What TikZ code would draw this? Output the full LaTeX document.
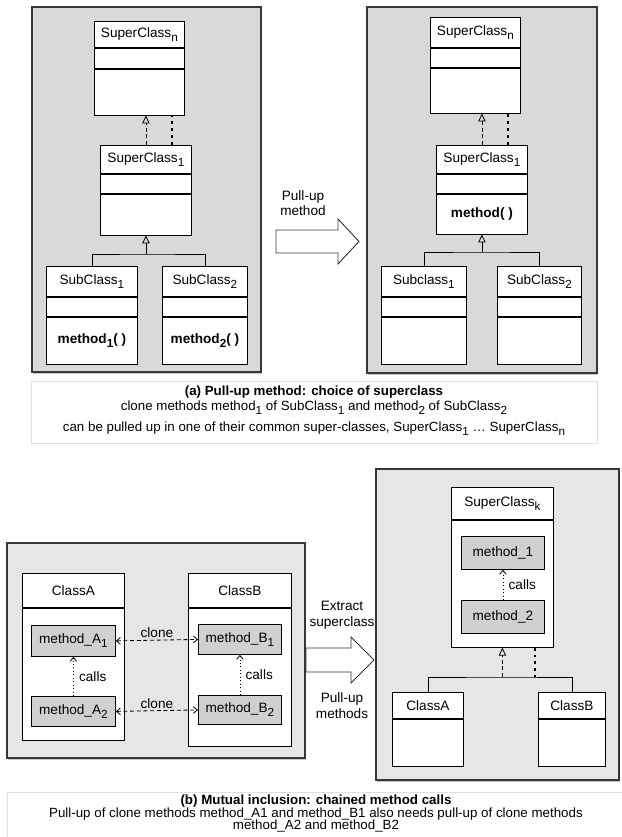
\documentclass[tikz,border=0pt]{standalone}
\usepackage{fontspec}
\setmainfont{Liberation Sans}
\usetikzlibrary{arrows.meta,calc,shadows}

\definecolor{panelgrey}{RGB}{217,217,217}
\definecolor{panellight}{RGB}{230,230,230}
\definecolor{methgrey}{RGB}{208,208,208}
\definecolor{edgegrey}{RGB}{55,55,55}
\newcommand{\subidx}[1]{\raisebox{-0.55ex}{\fontsize{8.8}{8.8}\selectfont #1}}
\newcommand{\tightcap}{\fontsize{10}{9.4}\selectfont\lineskiplimit=-5pt\relax}

\begin{document}
\begin{tikzpicture}[x=0.75pt,y=0.75pt,yscale=-1,xscale=1,
  font=\fontsize{10.2}{12}\selectfont,
  panel/.style={draw=edgegrey, line width=0.9pt, drop shadow={shadow xshift=0.8pt, shadow yshift=-1.2pt, opacity=0.45}},
  cls/.style n args={2}{draw, fill=white, line width=0.6pt, inner sep=0pt, anchor=north west, minimum width=#1*0.75pt, minimum height=#2*0.75pt},
  meth/.style n args={2}{cls={#1}{#2}, fill=methgrey},
  capbox/.style={draw=gray!25, fill=white, line width=0.4pt, drop shadow={shadow xshift=0.6pt, shadow yshift=-1pt, opacity=0.35}},
  inherit/.style={-{Triangle[open,length=6pt,width=5.5pt]}, line width=0.6pt},
  realize/.style={inherit, dash pattern=on 3pt off 2pt},
  chain/.style={line width=1.5pt, dash pattern=on 2.2pt off 3pt},
  clone/.style={{Straight Barb[length=3pt,width=5pt]}-{Straight Barb[length=3pt,width=5pt]}, dash pattern=on 3pt off 2pt, line width=0.6pt},
  calls/.style={-{Straight Barb[length=3pt,width=5pt]}, dotted, line width=0.6pt},
  bigarrow/.style={draw=edgegrey, fill=white, line width=0.7pt}
]
\path[use as bounding box] (0,0) rectangle (621,837);

%Shape: Rectangle (before pull-up)
\draw[panel, fill=panelgrey] (32,7) rectangle (261,372);
\node[cls={90}{26}] (L-supN) at (94,21) {SuperClass\subidx{n}};
\node[cls={90}{20}] (L-supN-attr) at (L-supN.south west) {};
\node[cls={90}{46}] (L-supN-ops) at (L-supN-attr.south west) {};
\node[cls={91}{28}] (L-sup1) at (100,145) {SuperClass\subidx{1}};
\node[cls={91}{19}] (L-sup1-attr) at (L-sup1.south west) {};
\node[cls={91}{41}] (L-sup1-ops) at (L-sup1-attr.south west) {};
\node[cls={91}{30}] (L-sub1) at (46,266) {SubClass\subidx{1}};
\node[cls={91}{19}] (L-sub1-attr) at (L-sub1.south west) {};
\node[cls={91}{47}] (L-sub1-ops) at (L-sub1-attr.south west) {\bfseries method\subidx{1}( )};
\node[cls={85}{30}] (L-sub2) at (162,266) {SubClass\subidx{2}};
\node[cls={85}{19}] (L-sub2-attr) at (L-sub2.south west) {};
\node[cls={85}{47}] (L-sub2-ops) at (L-sub2-attr.south west) {\bfseries method\subidx{2}( )};
%Straight Lines
\draw[realize] (L-sup1.north) -- (L-sup1.north |- L-supN-ops.south);
\draw[chain] ($(L-sup1.north)+(26,0)$) -- ($(L-sup1.north |- L-supN-ops.south)+(26,0)$);
\coordinate (L-join) at (L-sup1-ops.south |- 0,254);
\draw[line width=0.6pt] (L-sub1.north) |- (L-join) -| (L-sub2.north);
\draw[inherit] (L-join) -- (L-sup1-ops.south);

%Shape: Right Arrow
\draw[bigarrow] (276,230) -- (338,230) -- (338,219) -- (359,241.5) -- (338,264) -- (338,253) -- (276,253) -- cycle;
% Text Node
\node[align=center, font=\fontsize{10.2}{11.25}\selectfont] (pullup) at (303,203.5) {Pull-up\\method};

%Shape: Rectangle (after pull-up)
\draw[panel, fill=panelgrey] (367,7) rectangle (597,373);
\node[cls={90}{30}] (R-supN) at (430,17) {SuperClass\subidx{n}};
\node[cls={90}{19}] (R-supN-attr) at (R-supN.south west) {};
\node[cls={90}{45}] (R-supN-ops) at (R-supN-attr.south west) {};
\node[cls={91}{28}] (R-sup1) at (436,145) {SuperClass\subidx{1}};
\node[cls={91}{19}] (R-sup1-attr) at (R-sup1.south west) {};
\node[cls={91}{40}] (R-sup1-ops) at (R-sup1-attr.south west) {\bfseries method( )};
\node[cls={85}{30}] (R-sub1) at (381,266) {Subclass\subidx{1}};
\node[cls={85}{19}] (R-sub1-attr) at (R-sub1.south west) {};
\node[cls={85}{47}] (R-sub1-ops) at (R-sub1-attr.south west) {};
\node[cls={84}{30}] (R-sub2) at (497,266) {SubClass\subidx{2}};
\node[cls={84}{19}] (R-sub2-attr) at (R-sub2.south west) {};
\node[cls={84}{47}] (R-sub2-ops) at (R-sub2-attr.south west) {};
%Straight Lines
\draw[realize] (R-sup1.north) -- (R-sup1.north |- R-supN-ops.south);
\draw[chain] ($(R-sup1.north)+(26,0)$) -- ($(R-sup1.north |- R-supN-ops.south)+(26,0)$);
\coordinate (R-join) at (R-sup1-ops.south |- 0,252);
\draw[line width=0.6pt] (R-sub1.north) |- (R-join) -| (R-sub2.north);
\draw[inherit] (R-join) -- (R-sup1-ops.south);

%Shape: Rectangle (caption a)
\draw[capbox] (31,381) rectangle (597,443);
% Text Node
\node[align=center, font=\fontsize{10}{11.25}\selectfont] (cap-a) at (314,411) {\bfseries (a) Pull-up method: choice of superclass\\
  clone methods method\subidx{1} of SubClass\subidx{1} and method\subidx{2} of SubClass\subidx{2}\\[4.5pt]
  can be pulled up in one of their common super-classes, SuperClass\subidx{1} \ldots\ SuperClass\subidx{n}};

%Shape: Rectangle (before extract)
\draw[panel, fill=panellight] (7,543) rectangle (305,758);
\node[cls={102}{34}] (BL-classA) at (22,573) {ClassA};
\node[cls={102}{132}] (BL-classA-body) at (BL-classA.south west) {};
\node[cls={103}{34}] (BL-classB) at (188,573) {ClassB};
\node[cls={103}{138}] (BL-classB-body) at (BL-classB.south west) {};
\node[meth={84}{31}] (BL-mA1) at (31,625) {method\_A\subidx{1}};
\node[meth={84}{30}] (BL-mA2) at (31,696) {method\_A\subidx{2}};
\node[meth={83}{30}] (BL-mB1) at (198,624) {method\_B\subidx{1}};
\node[meth={83}{29}] (BL-mB2) at (198,695) {method\_B\subidx{2}};
%Straight Lines
\draw[clone] (BL-mA1.east) -- node[above, inner sep=1.5pt] {clone} (BL-mB1.west);
\draw[clone] (BL-mA2.east) -- node[above, inner sep=1.5pt] {clone} (BL-mB2.west);
\draw[calls] (BL-mA2.north) -- node[right, inner sep=4pt] {calls} (BL-mA1.south);
\draw[calls] (BL-mB2.north) -- node[right, inner sep=4pt] {calls} (BL-mB1.south);

%Shape: Right Arrow
\draw[bigarrow] (306,648) -- (351,648) -- (351,637) -- (374,660) -- (351,683) -- (351,672) -- (306,672) -- cycle;
% Text Node
\node[align=center, font=\fontsize{10.2}{12}\selectfont] (extract) at (342,615) {Extract\\superclass};
\node[align=center, font=\fontsize{10.2}{12}\selectfont] (pullups) at (342,706) {Pull-up\\methods};

%Shape: Rectangle (after extract)
\draw[panel, fill=panellight] (376,469) rectangle (619,780);
\node[cls={102}{32}] (BR-supK) at (451,487) {SuperClass\subidx{k}};
\node[cls={102}{127}] (BR-supK-body) at (BR-supK.south west) {};
\node[meth={83}{33}] (BR-m1) at (461,536) {method\_1};
\node[meth={83}{33}] (BR-m2) at (461,600) {method\_2};
\node[cls={71}{26}] (BR-classA) at (392,692) {ClassA};
\node[cls={71}{47}] (BR-classA-body) at (BR-classA.south west) {};
\node[cls={67}{26}] (BR-classB) at (538,692) {ClassB};
\node[cls={67}{47}] (BR-classB-body) at (BR-classB.south west) {};
%Straight Lines
\draw[calls] (BR-m2.north) -- node[right, inner sep=4pt] {calls} (BR-m1.south);
\coordinate (BR-join) at (BR-supK-body.south |- 0,677);
\draw[line width=0.6pt] (BR-classA.north) |- (BR-join) -| (BR-classB.north);
\draw[realize] (BR-join) -- (BR-supK-body.south);
\draw[chain] ($(BR-supK-body.south)+(33,0)$) -- ($(BR-join)+(33,0)$);

%Shape: Rectangle (caption b)
\draw[capbox] (7,792) rectangle (640,860);
% Text Node
\node[align=center, font=\tightcap] (cap-b) at (316,813.5) {\bfseries (b) Mutual inclusion: chained method calls\\
  Pull-up of clone methods method\_A1 and method\_B1 also needs pull-up of clone methods\\
  method\_A2 and method\_B2};

\end{tikzpicture}
\end{document}
